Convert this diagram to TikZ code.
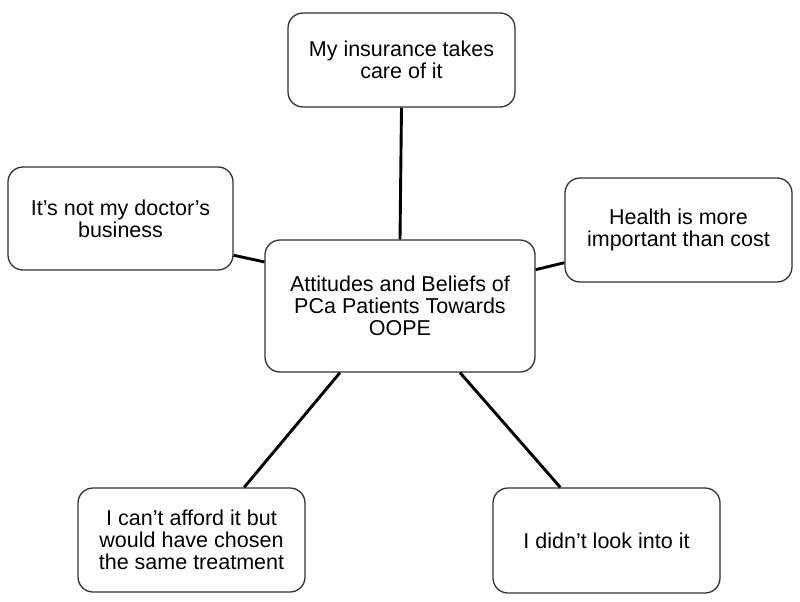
\documentclass[tikz,border=0pt]{standalone}
\usepackage{fontspec}
\setmainfont{Liberation Sans}
\begin{document}
\begin{tikzpicture}[x=1pt,y=1pt,
  box/.style={draw=black!80,line width=1.3pt,rounded corners=15pt,fill=white,
    align=center,inner sep=0pt,font=\fontsize{21.5}{22}\selectfont},
  conn/.style={line width=2.9pt,black}]
\useasboundingbox (0,0) rectangle (800,-602);
\node[box,minimum width=227,minimum height=94] (top) at (401.5,-60) {My insurance takes\\care of it};
\node[box,minimum width=225,minimum height=103] (left) at (120.5,-218.5) {It’s not my doctor’s\\business};
\node[box,minimum width=227,minimum height=104] (right) at (678.5,-230) {Health is more\\important than cost};
\node[box,minimum width=270,minimum height=132] (center) at (400,-306) {Attitudes and Beliefs of\\PCa Patients Towards\\OOPE};
\node[box,minimum width=227,minimum height=104] (bl) at (191.5,-540) {I can’t afford it but\\would have chosen\\the same treatment};
\node[box,minimum width=227,minimum height=105] (br) at (606.5,-540.5) {I didn{\char"0027}t look into it};
\draw[conn] (top.south) -- (center.north);
\draw[conn] (left.-18.4) -- (center.162.7);
\draw[conn] (right.-164.7) -- (center.15.3);
\draw[conn] (bl.45.8) -- (center.-132.3);
\draw[conn] (br.131.5) -- (center.-48.7);
\end{tikzpicture}
\end{document}
